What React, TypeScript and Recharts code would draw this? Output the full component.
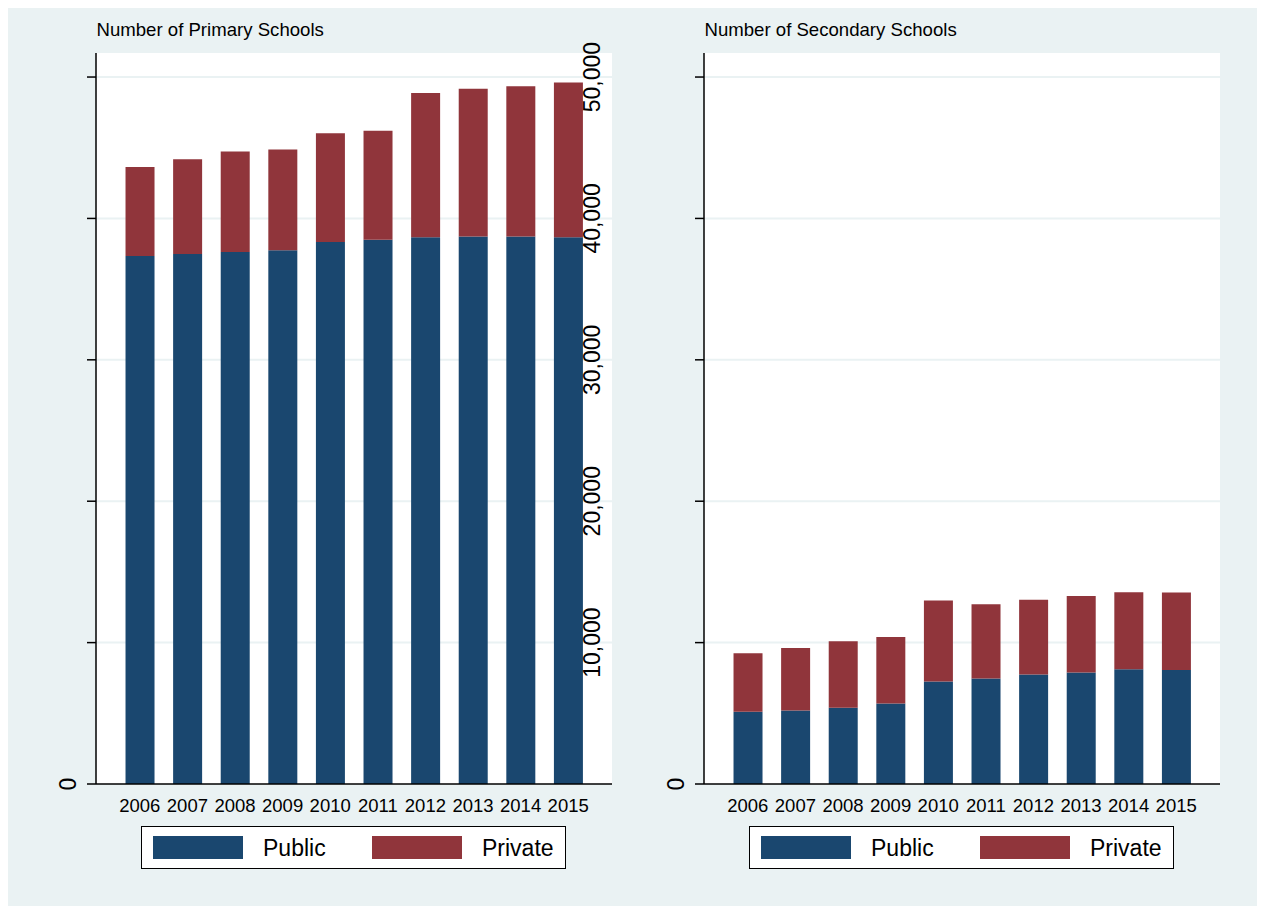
import { Bar, BarChart, CartesianGrid, Legend, XAxis, YAxis } from "recharts";

const years = ["2006", "2007", "2008", "2009", "2010", "2011", "2012", "2013", "2014", "2015"];
const primaryPublic = [37350, 37490, 37630, 37750, 38340, 38500, 38670, 38720, 38720, 38670];
const primaryPrivate = [6290, 6690, 7100, 7120, 7680, 7700, 10200, 10460, 10630, 10940];
const secondaryPublic = [5110, 5200, 5390, 5690, 7250, 7460, 7740, 7880, 8120, 8070];
const secondaryPrivate = [4140, 4420, 4710, 4710, 5720, 5250, 5290, 5410, 5435, 5480];
const yTicks = [0, 10000, 20000, 30000, 40000, 50000];
const legendOrder = ["Public", "Private"];

const NAVY = "#1a476f";
const MAROON = "#90353b";
const BG = "#eaf2f3";
const FONT = '"Liberation Sans", Arial, sans-serif';
const TICK_SIZE = 9;
const TICK_MARGIN = 2;

const primaryData = years.map((year, i) => ({
  year,
  Public: primaryPublic[i],
  Private: primaryPrivate[i],
}));
const secondaryData = years.map((year, i) => ({
  year,
  Public: secondaryPublic[i],
  Private: secondaryPrivate[i],
}));

// stata puts the "0" left of the axis and the rest over the right edge of the plot
function makeYTick(showUpper: boolean) {
  return function YTick(props: any) {
    const { x, y, payload } = props;
    const axisX = x + TICK_SIZE + TICK_MARGIN;
    if (payload.value !== 0 && !showUpper) return <g />;
    const cx = payload.value === 0 ? axisX - 28 : axisX + 496;
    return (
      <text
        x={cx}
        y={y}
        transform={`rotate(-90 ${cx} ${y})`}
        textAnchor="middle"
        dominantBaseline="central"
        fontSize={23}
        fontFamily={FONT}
        fill="#000"
      >
        {Number(payload.value).toLocaleString("en-US")}
      </text>
    );
  };
}

function SchoolLegend(props: any) {
  const items = (props.payload ?? [])
    .map((p: any) => ({ label: String(p.value), color: p.color }))
    .sort((a: any, b: any) => legendOrder.indexOf(a.label) - legendOrder.indexOf(b.label));
  const slots = [
    { sw: 10.5, tx: 121 },
    { sw: 230, tx: 340 },
  ];
  return (
    <div
      style={{
        position: "relative",
        width: 425,
        height: 43,
        boxSizing: "border-box",
        border: "1.5px solid #000",
        background: "#fff",
        fontFamily: FONT,
      }}
    >
      {items.map((it: any, i: number) => (
        <div key={it.label}>
          <div
            style={{
              position: "absolute",
              left: slots[i].sw,
              top: 8.5,
              width: 90,
              height: 23,
              background: it.color,
            }}
          />
          <div
            style={{
              position: "absolute",
              left: slots[i].tx,
              top: 8,
              fontSize: 23,
              lineHeight: "26px",
              color: "#000",
            }}
          >
            {it.label}
          </div>
        </div>
      ))}
    </div>
  );
}

interface PanelProps {
  title: string;
  data: { year: string; Public: number; Private: number }[];
  left: number;
  showUpper: boolean;
}

function Panel({ title, data, left, showUpper }: PanelProps) {
  return (
    <>
      <div
        style={{
          position: "absolute",
          left: left + 88.5,
          top: 13,
          fontFamily: FONT,
          fontSize: 18.6,
          lineHeight: "18px",
          color: "#000",
          whiteSpace: "nowrap",
        }}
      >
        {title}
      </div>
      <div style={{ position: "absolute", left, top: 0 }}>
        <BarChart
          width={620}
          height={890}
          data={data}
          margin={{ top: 45, right: 16, bottom: 74, left: 0 }}
          barCategoryGap="20%"
        >
          <CartesianGrid
            vertical={false}
            fill="#ffffff"
            fillOpacity={1}
            stroke={BG}
            strokeWidth={2}
            horizontalValues={yTicks.slice(1)}
          />
          <XAxis
            dataKey="year"
            height={40}
            padding={{ left: 20, right: 20 }}
            tickLine={false}
            tickMargin={9}
            axisLine={{ stroke: "#000", strokeWidth: 1.5 }}
            tick={{ fill: "#000", fontSize: 18.5, fontFamily: FONT }}
            interval={0}
          />
          <YAxis
            width={88}
            domain={[0, 51700]}
            ticks={yTicks}
            allowDataOverflow
            tickSize={TICK_SIZE}
            tickMargin={TICK_MARGIN}
            tickLine={{ stroke: "#000", strokeWidth: 1.5 }}
            axisLine={{ stroke: "#000", strokeWidth: 1.5 }}
            tick={makeYTick(showUpper)}
          />
          <Legend
            layout="horizontal"
            verticalAlign="middle"
            align="center"
            content={<SchoolLegend />}
            wrapperStyle={{ top: 818, left: 133, width: 425, height: 43 }}
          />
          <Bar dataKey="Public" stackId="a" fill={NAVY} isAnimationActive={false} />
          <Bar dataKey="Private" stackId="a" fill={MAROON} isAnimationActive={false} />
        </BarChart>
      </div>
    </>
  );
}

export default function App() {
  return (
    <div style={{ position: "relative", width: 1249, height: 898, background: BG, overflow: "hidden" }}>
      <Panel title="Number of Primary Schools" data={primaryData} left={0} showUpper />
      <Panel title="Number of Secondary Schools" data={secondaryData} left={608} showUpper={false} />
    </div>
  );
}
